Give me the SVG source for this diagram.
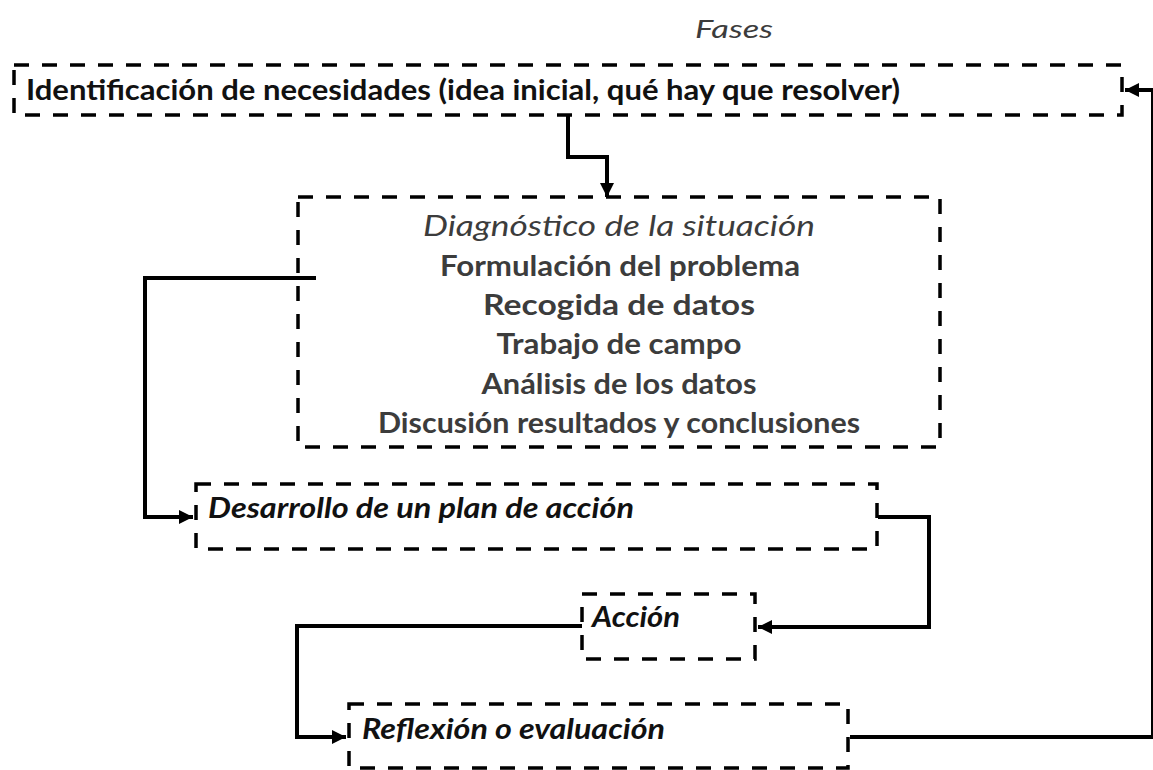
<svg xmlns="http://www.w3.org/2000/svg" width="1153" height="770" viewBox="0 0 1153 770">
<style>
.box{fill:none;stroke:#000;stroke-width:3.5;stroke-dasharray:15 13}
.con{fill:none;stroke:#000;stroke-width:4;stroke-linejoin:miter}
text{font-family:Lato,"Open Sans","Liberation Sans",sans-serif;font-size:28px}
.b{font-weight:bold}
.i{font-style:italic}
.g{fill:#3c3c3c}
.k{fill:#111}
.m{text-anchor:middle}
</style>
<defs>
<marker id="ah" markerUnits="userSpaceOnUse" markerWidth="16" markerHeight="14" refX="14" refY="7" orient="auto">
<path d="M0,0 L14,7 L0,14 z" fill="#000"/>
</marker>
</defs>
<rect width="1153" height="770" fill="#fff"/>
<text id="title" x="734" y="38" class="i g m" style="font-size:26px" textLength="78" lengthAdjust="spacingAndGlyphs">Fases</text>
<g id="n1">
<rect class="box" x="14" y="65" width="1108" height="50"/>
<text x="26" y="100" class="b k" textLength="874" lengthAdjust="spacingAndGlyphs">Identificación de necesidades (idea inicial, qué hay que resolver)</text>
</g>
<g id="n2">
<rect class="box" x="298" y="197" width="642" height="250"/>
<text x="619" y="236" class="i g m" textLength="392" lengthAdjust="spacingAndGlyphs">Diagnóstico de la situación</text>
<text x="620" y="276" class="b g m" textLength="360" lengthAdjust="spacingAndGlyphs">Formulación del problema</text>
<text x="619" y="315" class="b g m" textLength="272" lengthAdjust="spacingAndGlyphs">Recogida de datos</text>
<text x="619" y="354" class="b g m" textLength="245" lengthAdjust="spacingAndGlyphs">Trabajo de campo</text>
<text x="619" y="394" class="b g m" textLength="275" lengthAdjust="spacingAndGlyphs">Análisis de los datos</text>
<text x="619" y="433" class="b g m" textLength="482" lengthAdjust="spacingAndGlyphs">Discusión resultados y conclusiones</text>
</g>
<g id="n3">
<rect class="box" x="196" y="484" width="681" height="65"/>
<text x="208" y="518" class="b i k" textLength="426" lengthAdjust="spacingAndGlyphs">Desarrollo de un plan de acción</text>
</g>
<g id="n4">
<rect class="box" x="582" y="594" width="173" height="65"/>
<text x="592" y="627" class="b i k" textLength="88" lengthAdjust="spacingAndGlyphs">Acción</text>
</g>
<g id="n5">
<rect class="box" x="349" y="704" width="499" height="64"/>
<text x="362" y="739" class="b i k" textLength="303" lengthAdjust="spacingAndGlyphs">Reflexión o evaluación</text>
</g>
<g id="connectors">
<path class="con" d="M568,115 V157 H607 V197" marker-end="url(#ah)"/>
<path class="con" d="M316,278 H145 V517 H193" marker-end="url(#ah)"/>
<path class="con" d="M878,517 H929 V627 H758" marker-end="url(#ah)"/>
<path class="con" d="M582,626 H297 V737 H346" marker-end="url(#ah)"/>
<path class="con" d="M850,737 H1153 V90 H1125" marker-end="url(#ah)"/>
</g>
</svg>
